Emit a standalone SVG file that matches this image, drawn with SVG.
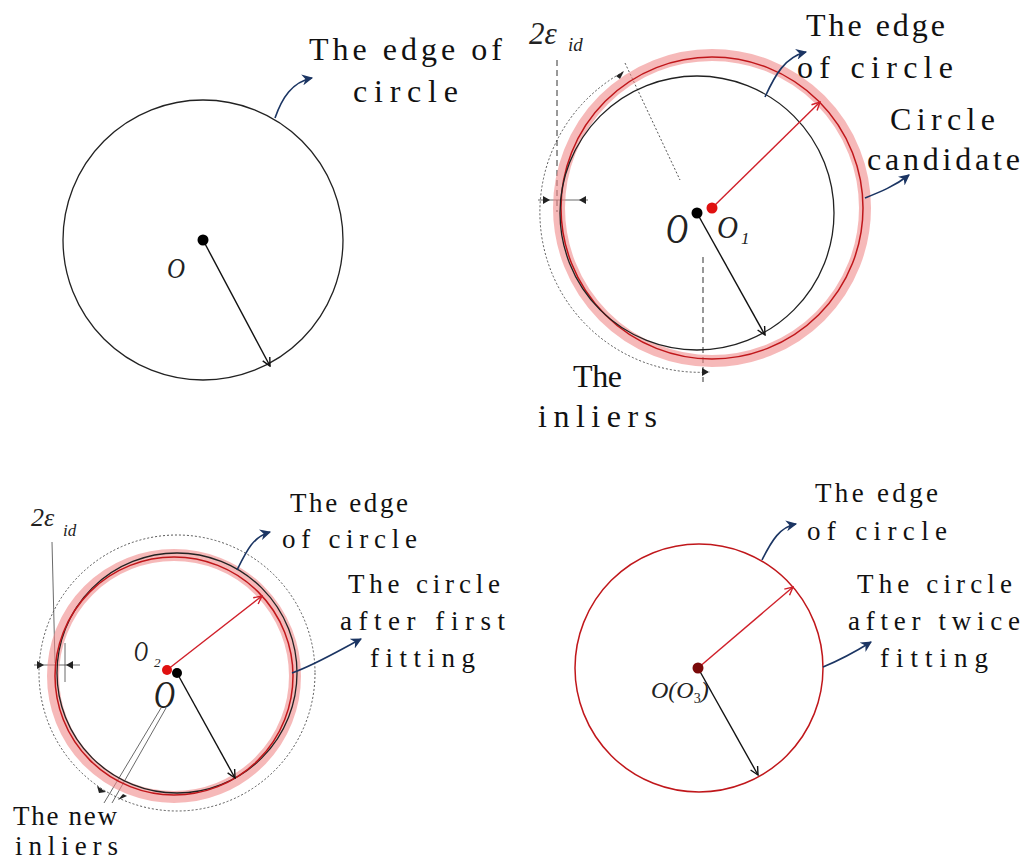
<svg xmlns="http://www.w3.org/2000/svg" width="1026" height="862" viewBox="0 0 1026 862">
<style>
.lbl{font-family:"Liberation Serif","DejaVu Serif",serif;fill:#111}
.big{font-size:32px}
.sm{font-size:27px}
.math{font-family:"Liberation Serif","DejaVu Serif",serif;font-style:italic;fill:#222}
.edge{fill:none;stroke:#222;stroke-width:1.3}
.band{fill:none;stroke:#f08a8a;stroke-opacity:0.6;stroke-width:12}
.redc{fill:none;stroke:#c0171b;stroke-width:1.5}
.dot{fill:none;stroke:#444;stroke-width:0.9;stroke-dasharray:2 2}
.dash{fill:none;stroke:#333;stroke-width:1;stroke-dasharray:6 4}
.thin{fill:none;stroke:#444;stroke-width:0.8}
.radB{stroke:#111;stroke-width:1.4;fill:none}
.radR{stroke:#d0202a;stroke-width:1.4;fill:none}
.conn{fill:none;stroke:#1b3563;stroke-width:1.6}
</style>
<defs>
<marker id="vB" viewBox="0 0 10 10" refX="9" refY="5" markerWidth="10" markerHeight="10" markerUnits="userSpaceOnUse" orient="auto"><path d="M1,1 L9,5 L1,9" fill="none" stroke="#111" stroke-width="1.4"/></marker>
<marker id="vR" viewBox="0 0 10 10" refX="9" refY="5" markerWidth="10" markerHeight="10" markerUnits="userSpaceOnUse" orient="auto"><path d="M1,1 L9,5 L1,9" fill="none" stroke="#d0202a" stroke-width="1.4"/></marker>
<marker id="nv" viewBox="0 0 10 10" refX="9" refY="5" markerWidth="11" markerHeight="11" markerUnits="userSpaceOnUse" orient="auto"><path d="M0,0 L10,5 L0,10 L3,5 Z" fill="#1b3563"/></marker>
</defs>

<g id="panel-tl">
<circle class="edge" cx="203" cy="240" r="140"/>
<line class="radB" x1="203" y1="240" x2="270" y2="366" marker-end="url(#vB)"/>
<circle cx="203" cy="240" r="5.5" fill="#000"/>
<text class="math" x="167" y="278" font-size="30" textLength="18" lengthAdjust="spacingAndGlyphs">O</text>
<text class="lbl big" x="309" y="60" textLength="193" lengthAdjust="spacing">The edge of</text>
<text class="lbl big" x="353" y="102" textLength="105" lengthAdjust="spacing">circle</text>
</g>

<g id="panel-tr">
<path class="dot" d="M623,72 A160,160 0 0 0 710,372"/>
<line class="dot" x1="625" y1="63" x2="680" y2="180"/>
<line class="dash" x1="557" y1="60" x2="557" y2="212"/>
<line class="dash" x1="703" y1="257" x2="703" y2="382"/>
<line class="thin" x1="538" y1="200" x2="588" y2="200"/>
<path d="M543,196 L550,200 L543,204 Z" fill="#222"/>
<path d="M586,196 L579,200 L586,204 Z" fill="#222"/>
<path d="M702,368 L709,372 L702,376 Z" fill="#222"/>
<path d="M616,76 L624,71 L620,79 Z" fill="#222"/>
<circle class="band" cx="712" cy="208" r="153"/>
<circle class="redc" cx="712" cy="208" r="151"/>
<circle class="edge" cx="697" cy="213" r="137"/>
<line class="radR" x1="712" y1="208" x2="820" y2="102" marker-end="url(#vR)"/>
<line class="radB" x1="697" y1="213" x2="765" y2="335" marker-end="url(#vB)"/>
<circle cx="697" cy="213" r="5.5" fill="#000"/>
<circle cx="712" cy="208" r="5.5" fill="#e01010"/>
<text class="math" x="666" y="243" font-size="42" textLength="22" lengthAdjust="spacingAndGlyphs">O</text>
<text class="math" x="717" y="238" font-size="31" textLength="21" lengthAdjust="spacingAndGlyphs">O</text>
<text class="math" x="741" y="244" font-size="17" font-style="normal">1</text>
<text class="math" x="529" y="44" font-size="31" font-style="normal">2<tspan font-style="italic">ε</tspan></text>
<text class="math" x="568" y="51" font-size="19">id</text>
<text class="lbl big" x="806" y="36" textLength="139" lengthAdjust="spacing">The edge</text>
<text class="lbl big" x="797" y="78" textLength="156" lengthAdjust="spacing">of circle</text>
<text class="lbl big" x="890" y="130" textLength="105" lengthAdjust="spacing">Circle</text>
<text class="lbl big" x="867" y="170" textLength="153" lengthAdjust="spacing">candidate</text>
<text class="lbl big" x="573" y="387" textLength="49" lengthAdjust="spacing">The</text>
<text class="lbl big" x="538" y="427" textLength="119" lengthAdjust="spacing">inliers</text>
</g>

<g id="panel-bl">
<circle class="dot" cx="177" cy="673" r="138"/>
<line class="thin" x1="52" y1="542" x2="55" y2="663"/>
<line class="thin" x1="34" y1="665" x2="80" y2="665"/>
<line class="thin" x1="65" y1="643" x2="65" y2="682"/>
<path d="M37,661 L44,665 L37,669 Z" fill="#222"/>
<path d="M73,661 L66,665 L73,669 Z" fill="#222"/>
<line class="thin" x1="161" y1="708" x2="104" y2="803"/>
<line class="thin" x1="166" y1="708" x2="112" y2="803"/>
<path d="M97,786 L106,792 L99,793 Z" fill="#222"/>
<path d="M127,796 L118,800 L123,794 Z" fill="#222"/>
<circle class="band" cx="174" cy="676" r="121"/>
<circle class="edge" cx="177" cy="673" r="120"/>
<circle class="redc" cx="174" cy="676" r="119"/>
<line class="radR" x1="167" y1="670" x2="262" y2="596" marker-end="url(#vR)"/>
<line class="radB" x1="177" y1="673" x2="235" y2="778" marker-end="url(#vB)"/>
<circle cx="167" cy="670" r="5" fill="#e01010"/>
<circle cx="177" cy="673" r="5" fill="#000"/>
<text class="math" x="134" y="661" font-size="30" textLength="14" lengthAdjust="spacingAndGlyphs">O</text>
<text class="math" x="154" y="667" font-size="13" font-style="normal">2</text>
<text class="math" x="154" y="708" font-size="40" textLength="21" lengthAdjust="spacingAndGlyphs">O</text>
<text class="math" x="31" y="526" font-size="26" font-style="normal">2<tspan font-style="italic">ε</tspan></text>
<text class="math" x="63" y="536" font-size="17">id</text>
<text class="lbl sm" x="290" y="512" textLength="118" lengthAdjust="spacing">The edge</text>
<text class="lbl sm" x="282" y="548" textLength="135" lengthAdjust="spacing">of circle</text>
<text class="lbl sm" x="348" y="593" textLength="152" lengthAdjust="spacing">The circle</text>
<text class="lbl sm" x="340" y="630" textLength="165" lengthAdjust="spacing">after first</text>
<text class="lbl sm" x="370" y="667" textLength="105" lengthAdjust="spacing">fitting</text>
<text class="lbl sm" x="13" y="825" textLength="104" lengthAdjust="spacing">The new</text>
<text class="lbl sm" x="15" y="855" textLength="103" lengthAdjust="spacing">inliers</text>
</g>

<g id="panel-br">
<circle class="redc" cx="699" cy="668" r="124"/>
<line class="radR" x1="698" y1="668" x2="793" y2="587" marker-end="url(#vR)"/>
<line class="radB" x1="698" y1="668" x2="758" y2="775" marker-end="url(#vB)"/>
<circle cx="698" cy="668" r="5.5" fill="#7a0a0a"/>
<text class="math" x="651" y="698" font-size="24">O(O<tspan font-size="14" dy="5" font-style="normal">3</tspan><tspan dy="-5">)</tspan></text>
<text class="lbl sm" x="815" y="502" textLength="123" lengthAdjust="spacing">The edge</text>
<text class="lbl sm" x="807" y="540" textLength="140" lengthAdjust="spacing">of circle</text>
<text class="lbl sm" x="857" y="593" textLength="155" lengthAdjust="spacing">The circle</text>
<text class="lbl sm" x="848" y="630" textLength="172" lengthAdjust="spacing">after twice</text>
<text class="lbl sm" x="880" y="667" textLength="108" lengthAdjust="spacing">fitting</text>
</g>

<g id="connectors">
<path class="conn" d="M275,118 C282,98 292,82 312,78" stroke="#5a6a80" stroke-width="1" marker-end="url(#nv)"/>
<path class="conn" d="M765,97 C775,75 785,57 806,52" marker-end="url(#nv)"/>
<path class="conn" d="M865,198 C880,192 895,186 909,175" marker-end="url(#nv)"/>
<path class="conn" d="M237,570 C247,550 253,537 270,532" marker-end="url(#nv)"/>
<path class="conn" d="M292,673 C315,665 340,650 361,639" marker-end="url(#nv)"/>
<path class="conn" d="M762,560 C772,540 780,527 796,524" marker-end="url(#nv)"/>
<path class="conn" d="M823,667 C840,660 855,652 871,642" marker-end="url(#nv)"/>
</g>
</svg>
